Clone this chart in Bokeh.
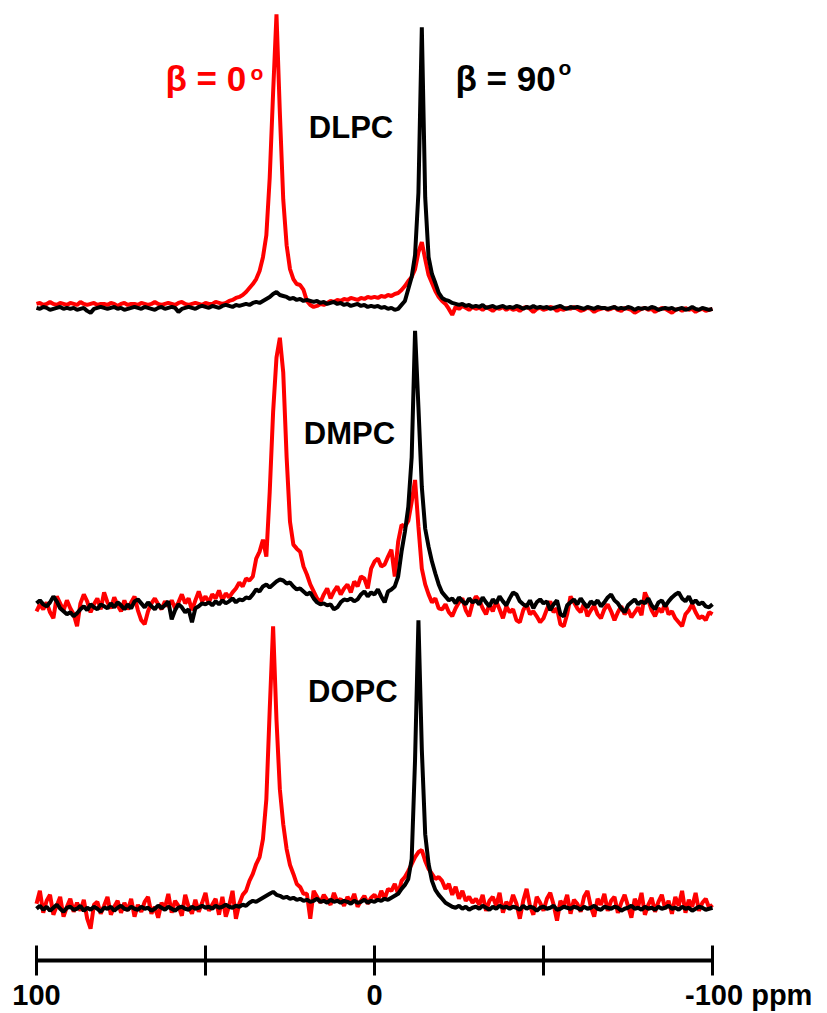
from bokeh.plotting import figure
from bokeh.models import Range1d, LinearAxis, FixedTicker
from bokeh.core.properties import value
from bokeh.embed import file_html
from bokeh.resources import INLINE

# ---------------- data ----------------
PPM = list(range(100, -101, -1))          # chemical shift axis, 1 ppm steps

LIPIDS = ["DLPC", "DMPC", "DOPC"]
BETA_LABELS = ["\u03b2 = 0", "\u03b2 = 90"]
TICKS = [100, 50, 0, -50, -100]
TICK_LABELS = {100: "100", 50: "", 0: "0", -50: "", -100: "\u2003\u2003\u2002-100 ppm"}

# intensities (arbitrary units), beta = 0 deg (red) and beta = 90 deg (black)
DLPC_RED = [
    3, 4, 2, 3, 5, 3, 2, 4, 3, 2,
    4, 3, 2, 5, 3, 2, 3, 4, 2, 3,
    3, 2, 4, 3, 1, 3, 4, 2, 3, 3,
    2, 4, 3, 2, 3, 5, 3, 2, 3, 4,
    3, 2, 4, 5, 3, 2, 3, 4, 3, 2,
    4, 3, 3, 5, 4, 3, 4, 6, 7, 9,
    10, 12, 15, 19, 23, 28, 36, 50, 72, 130,
    215, 294, 195, 108, 62, 38, 28, 23, 22, 17,
    6, 2, 0, 1, 3, 2, 4, 6, 5, 7,
    6, 8, 7, 9, 8, 7, 9, 8, 10, 9,
    10, 9, 11, 10, 12, 11, 13, 14, 17, 21,
    26, 30, 38, 55, 65, 48, 32, 24, 16, 10,
    6, 3, -2, -8, 0, -2, 1, -1, -3, 0,
    -2, -1, -3, 0, -2, -4, -1, -2, 0, -3,
    -1, -3, -2, -4, -1, 0, -2, -5, -2, -1,
    -3, -2, 0, -1, -4, -2, -3, -1, -2, 0,
    -2, -4, -3, -1, -2, -5, -3, -2, -1, -3,
    -2, 0, -3, -4, -1, -2, -3, -6, -4, -2,
    -1, -3, -2, -5, -3, -1, -2, -4, -6, -3,
    -2, -4, -1, -3, -2, -5, -3, -2, -4, -3,
    -2]
DLPC_BLACK = [
    -1, -2, 0, -1, -3, -2, -1, 0, -2, -1,
    -2, -1, -3, -2, -1, -4, -6, -2, -1, 0,
    -1, -2, -1, 0, -2, -1, -3, -2, -1, 0,
    -1, -2, 0, -1, -2, -3, -1, 0, -2, -1,
    0, -1, -5, -2, -1, 0, -1, -2, 0, 1,
    0, -1, 1, 0, -1, 1, 2, 1, 0, 2,
    1, 2, 3, 2, 4, 5, 4, 6, 8, 10,
    13, 15, 12, 11, 10, 8, 9, 7, 8, 6,
    7, 6, 5, 6, 4, 5, 3, 4, 5, 3,
    4, 2, 3, 1, 2, 3, 1, 2, 0, 1,
    0, 1, -1, 0, -2, -1, -3, -2, 2, 6,
    18, 30, 52, 115, 281, 110, 50, 33, 24, 14,
    9, 7, 6, 4, 3, 2, 3, 1, 2, 0,
    1, 0, 2, -1, 0, 1, -1, 0, 1, -1,
    0, -1, 1, 0, -2, 0, -1, 1, -1, 0,
    -1, 0, -2, -1, 0, 1, -1, -2, 0, -1,
    0, -1, -2, 0, -1, -2, 0, -1, -1, -2,
    -1, 0, -2, -1, -2, 0, -1, -3, -1, -2,
    -1, -2, 0, -1, -3, -2, -1, -2, -1, -3,
    -2, -1, -3, -2, 0, -2, -3, -1, -2, -3,
    -2]
DMPC_RED = [
    -5, 2, -3, 4, -6, -12, 10, 3, -4, 6,
    -2, -8, -20, 3, 12, 5, -6, 2, 8, -3,
    14, 4, -2, 9, 1, -5, 6, -3, 4, 10,
    -4, -14, -18, -5, 3, 8, 2, -3, 5, 0,
    6, -2, 4, 12, 3, 8, -4, 6, 15, 5,
    10, 4, 12, 8, 16, 6, 13, 9, 14, 18,
    24, 20, 28, 26, 30, 48, 55, 67, 50, 115,
    195, 250, 270, 235, 150, 85, 62, 58, 55, 40,
    32, 22, 15, 8, 4, 12, 18, 8, 15, 20,
    12, 18, 22, 14, 25, 20, 30, 28, 18, 38,
    45, 48, 40, 42, 50, 57, 30, 65, 82, 80,
    86, 105, 127, 80, 38, 22, 12, 4, 8, -2,
    -3, 2, -6, -10, -2, 4, 8, -4, -10, 3,
    10, 6, -2, -8, 2, -5, 5, -3, -12, 0,
    -6, -3, -14, -16, -4, 2, -8, -5, -10, -16,
    -12, -3, 5, -6, -2, -18, -20, -8, 10, 4,
    -2, -6, 3, -10, -4, 1, -8, -12, -3, 2,
    -5, -14, -6, 0, -8, -3, -11, -6, -1, -9,
    14, 6, -4, -10, -2, -6, 3, -8, -5, -12,
    -16, -20, -8, -4, 2, -6, -12, -10, -14, -6,
    -8]
DMPC_BLACK = [
    3, 6, 2, 0, 4, 10, 5, -2, -5, -8,
    -6, -10, -7, -3, 0, -4, 2, -1, -3, 2,
    0, -2, 3, -1, 4, 1, -3, 2, -2, 5,
    7, 3, -1, 4, 0, -3, 2, -2, 1, 5,
    -13, -4, 2, -1, -6, -3, -16, -2, 0, 3,
    2, 4, 1, 5, 2, 6, 3, 5, 8, 4,
    7, 6, 9, 8, 12, 17, 15, 20, 22, 19,
    22, 25, 27, 26, 23, 24, 20, 17, 18, 15,
    12, 14, 8, 4, 2, 3, 1, 2, -3, -1,
    4, 7, 6, 8, 5, 7, 12, 15, 10, 14,
    12, 17, 10, 4, 15, 17, 20, 30, 55, 75,
    100, 150, 277, 200, 120, 78, 60, 45, 33, 22,
    14, 10, 6, 8, 3, 9, 5, 2, 8, 4,
    6, 2, 9, 4, 0, 7, 3, 10, 5, 1,
    8, 14, 12, 5, 2, 0, 6, -2, 4, 7,
    3, 5, -4, 2, 6, -8, -10, 1, 4, 7,
    2, 8, 3, -1, 5, 2, 6, 0, 4, 9,
    12, 6, 3, -2, -6, 1, 4, 7, 2, 5,
    3, 8, 1, -3, 4, 6, 0, 5, 9, 12,
    14, 8, 5, 10, 3, 6, 2, 4, 0, -1,
    2]
DOPC_RED = [
    5, 18, -4, 8, 14, -6, 3, 12, -8, 2,
    10, -3, 6, -2, 9, -10, -20, 4, 7, -5,
    3, 12, -6, 2, 8, -4, 6, -2, 10, -8,
    4, -3, 7, 12, -5, 2, -9, 6, 1, 15,
    -4, 8, 3, -7, 14, 2, -5, 9, -3, 6,
    16, -2, 4, 10, -6, 12, -8, 3, 18, -10,
    5, 14, 18, 28, 35, 45, 52, 70, 110, 200,
    284, 190, 120, 85, 60, 44, 35, 25, 22, 15,
    15, -10, 18, 12, 6, 14, 9, 4, 16, 7,
    10, 3, 12, 6, 15, 2, 8, 13, 5, 11,
    14, 8, 18, 10, 20, 18, 25, 15, 28, 32,
    38, 45, 52, 57, 59, 48, 40, 35, 30, 32,
    28, 20, 25, 14, 22, 10, 18, 8, 12, 6,
    10, 4, 14, -2, 8, 12, 3, 16, -4, 7,
    2, 14, 5, -10, 8, 20, 3, -6, 12, 6,
    -2, 10, 16, 4, -12, 8, 3, 14, -5, 9,
    5, -3, 12, 18, 2, -8, 10, 4, 15, -2,
    8, 12, -4, 6, 14, 3, -9, 10, 2, 16,
    -6, 4, 11, -3, 7, 14, 0, 8, -5, 12,
    3, 18, -4, 9, 2, 16, -2, 6, 10, 1,
    4]
DOPC_BLACK = [
    0, 3, -1, 2, -2, 1, 4, 0, -3, 1,
    2, -1, 0, 3, -2, 1, -1, 2, 0, -3,
    1, 0, 2, -2, 1, 3, 0, -1, 2, 0,
    -1, 2, 0, 1, -2, 0, 3, 1, -1, 2,
    0, -2, 1, 2, 0, -1, 2, 0, 1, 3,
    1, 2, 0, 3, 1, 2, 4, 2, 1, 3,
    2, 4, 3, 6, 8, 7, 9, 11, 13, 15,
    17, 14, 13, 11, 12, 10, 11, 9, 10, 8,
    9, 7, 8, 10, 7, 8, 6, 9, 7, 8,
    6, 8, 7, 5, 8, 6, 7, 9, 6, 8,
    7, 9, 8, 10, 9, 11, 13, 15, 20, 24,
    30, 50, 150, 290, 160, 75, 45, 28, 19, 14,
    10, 6, 4, 2, 1, 3, 0, 2, -1, 1,
    2, 0, 3, 1, -1, 2, 0, 3, 1, 2,
    0, 2, 1, -1, 3, 0, 2, 1, -2, 1,
    2, 0, 1, 3, -1, 0, 2, 1, 0, 2,
    1, -1, 2, 0, 1, 3, 0, -1, 2, 1,
    0, 2, 1, -2, 0, 1, 3, 0, 1, -1,
    2, 0, 1, -1, 2, 0, 1, 3, 0, 1,
    -1, 2, 0, 1, -2, 0, 2, 1, -1, 0,
    1]

SPECTRA = {
    "DLPC": (DLPC_RED, DLPC_BLACK),
    "DMPC": (DMPC_RED, DMPC_BLACK),
    "DOPC": (DOPC_RED, DOPC_BLACK),
}

# ---------------- layout / style ----------------
STACK_OFFSET = {"DLPC": 657, "DMPC": 356, "DOPC": 52}      # vertical stacking of spectra
NAME_POS = {"DLPC": (6.95, 837), "DMPC": (7.4, 530), "DOPC": (6.4, 270)}
BETA_POS = [(61.83, 887), (-23.96, 887)]
SUP_POS = [(36.7, 893), (-54.44, 898)]
RED = "#ff0000"
BLACK = "#000000"
FONT = value("Liberation Sans")

p = figure(width=827, height=1013, output_backend="svg", toolbar_location=None,
           x_range=Range1d(110.651, -134.024), y_range=Range1d(0, 965),
           x_axis_type=None, y_axis_type=None,
           min_border_left=0, min_border_right=0, min_border_top=0, min_border_bottom=48,
           background_fill_color="white", border_fill_color="white")
p.outline_line_color = None

for name in LIPIDS:
    red, black = SPECTRA[name]
    off = STACK_OFFSET[name]
    p.line(PPM, [v + off for v in red], line_color=RED, line_width=4)
    p.line(PPM, [v + off for v in black], line_color=BLACK, line_width=4)

# sample names
p.text(x=[NAME_POS[n][0] for n in LIPIDS], y=[NAME_POS[n][1] for n in LIPIDS], text=LIPIDS,
       text_font=FONT, text_font_style="bold", text_font_size="31px",
       text_align="center", text_baseline="alphabetic", text_color=BLACK)

# beta labels
p.text(x=[BETA_POS[0][0]], y=[BETA_POS[0][1]], text=[BETA_LABELS[0]],
       text_font=FONT, text_font_style="bold", text_font_size="35px",
       text_align="left", text_baseline="alphabetic", text_color=RED)
p.text(x=[BETA_POS[1][0]], y=[BETA_POS[1][1]], text=[BETA_LABELS[1]],
       text_font=FONT, text_font_style="bold", text_font_size="35px",
       text_align="left", text_baseline="alphabetic", text_color=BLACK)
p.text(x=[SUP_POS[0][0]], y=[SUP_POS[0][1]], text=["o"],
       text_font=FONT, text_font_style="bold", text_font_size="21px",
       text_align="left", text_baseline="alphabetic", text_color=RED)
p.text(x=[SUP_POS[1][0]], y=[SUP_POS[1][1]], text=["o"],
       text_font=FONT, text_font_style="bold", text_font_size="21px",
       text_align="left", text_baseline="alphabetic", text_color=BLACK)

ax = LinearAxis(ticker=FixedTicker(ticks=TICKS), bounds=(-100, 100),
                major_label_overrides=TICK_LABELS,
                axis_line_width=4, axis_line_color=BLACK,
                major_tick_line_width=3, major_tick_line_color=BLACK,
                major_tick_in=15, major_tick_out=15,
                minor_tick_line_color=None,
                major_label_text_font="Liberation Sans",
                major_label_text_font_style="bold",
                major_label_text_font_size="29px",
                major_label_text_color=BLACK,
                major_label_standoff=3)
p.add_layout(ax, "below")

open("out.html", "w").write(file_html(p, INLINE))
